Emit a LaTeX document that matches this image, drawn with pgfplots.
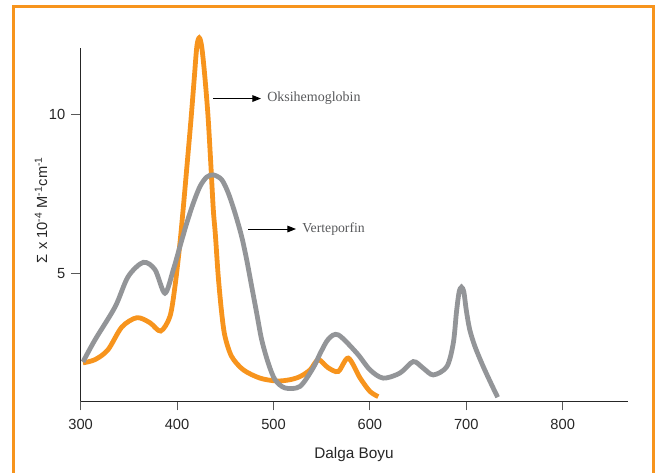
\documentclass[border=0pt]{standalone}
\usepackage{fontspec}
\setmainfont{Liberation Sans}
\newfontfamily\annfont{Liberation Serif}
\usepackage{pgfplots}
\pgfplotsset{compat=1.18}
\usetikzlibrary{arrows.meta}
\definecolor{oxy}{HTML}{F7941D}
\definecolor{vert}{HTML}{939598}
\definecolor{anntext}{HTML}{58595B}
\begin{document}
\begin{tikzpicture}
\path[use as bounding box] (0,0) rectangle (491.25pt,-354pt);
\draw[oxy, line width=2.25pt] (10pt,-356pt) -- (10pt,-4.75pt) -- (489.75pt,-4.75pt) -- (489.75pt,-356pt);
\begin{axis}[
  at={(60.5pt,-300.75pt)}, anchor=south west,
  scale only axis, width=410.7pt, height=264.75pt,
  xmin=300, xmax=868, ymin=1, ymax=12.1,
  axis lines=left, axis line style={-, line width=0.75pt, black!85},
  clip=false,
  xtick={300,400,500,600,700,800},
  ytick={5,10},
  tick align=outside, major tick length=7pt,
  tick style={line width=0.75pt, black!65},
  /pgf/number format/assume math mode=true,
  ticklabel style={font=\fontsize{11pt}{13pt}\selectfont, text=black!85},
  x tick label style={yshift=-3.5pt},
  y tick label style={xshift=-1pt},
]
\addplot[oxy, line width=3.6pt, smooth, tension=0.5] coordinates {
(302.4,2.20) (314.8,2.30) (328.3,2.61) (342.8,3.33) (358.4,3.62) (371.9,3.46)
(383.0,3.20) (392.6,3.66) (397.8,4.60) (403.0,5.97) (406.8,7.20) (410.8,8.58)
(414.4,9.84) (417.7,11.10) (420.5,12.15) (423.0,12.42) (425.5,12.15) (428.5,11.30)
(432.0,10.00) (434.9,8.50) (437.6,7.01) (439.8,6.20) (442.7,4.92) (446.3,3.76)
(449.7,3.03) (456.6,2.40) (468.7,1.98) (486.0,1.72) (503.3,1.63) (517.1,1.67)
(527.6,1.77) (538.0,1.98) (546.5,2.30) (556.5,2.05) (567.2,1.93)
(577.6,2.35) (589.7,1.73) (600.1,1.30) (608.7,1.14)
};
\addplot[vert, line width=3.6pt, smooth, tension=0.5] coordinates {
(302.4,2.23) (314.8,2.92) (335.7,3.96) (349.2,4.91) (364.9,5.36) (377.1,5.13)
(387.4,4.39) (396.1,5.13) (403.0,5.86) (410.0,6.59) (416.8,7.22) (423.8,7.75)
(430.7,8.04) (437.6,8.11) (446.3,7.96) (453.1,7.54) (460.1,6.91) (467.0,6.17)
(472.2,5.44) (477.4,4.60) (482.6,3.76) (487.8,2.92) (494.6,2.19) (501.6,1.67)
(512.0,1.41) (527.5,1.46) (541.3,2.05) (548.5,2.50)
(557.0,2.95) (567.2,3.08) (586.3,2.51) (600.1,1.98) (613.9,1.72) (631.2,1.88)
(645.0,2.24) (655.4,2.03) (665.8,1.82) (679.8,2.08) (686.5,2.82) (689.8,3.80)
(692.5,4.42) (695.0,4.58) (697.5,4.42) (700.0,3.85) (703.5,3.25) (709.0,2.71)
(717.6,2.08) (726.3,1.51) (732.5,1.12)
};
\end{axis}
\draw[line width=0.75pt, -{Triangle[length=6.5pt,width=5pt]}] (159.75pt,-73.9pt) -- (195.75pt,-73.9pt);
\node[anchor=west, inner sep=0pt, text=anntext, font=\annfont\fontsize{10.5pt}{12pt}\selectfont] at (200.25pt,-73.9pt) {Oksihemoglobin};
\draw[line width=0.75pt, -{Triangle[length=6.5pt,width=5pt]}] (186pt,-171.75pt) -- (222pt,-171.75pt);
\node[anchor=west, inner sep=0pt, text=anntext, font=\annfont\fontsize{10.3pt}{12pt}\selectfont] at (226.5pt,-171.75pt) {Verteporfin};
\node[rotate=90, inner sep=0pt, text=black!85, font=\fontsize{11pt}{13pt}\selectfont] at (30.75pt,-157.5pt) {Σ x 10\textsuperscript{-4} M\textsuperscript{-1}cm\textsuperscript{-1}};
\node[inner sep=0pt, text=black!85, font=\fontsize{11.5pt}{13pt}\selectfont] at (265.5pt,-341pt) {Dalga Boyu};
\end{tikzpicture}
\end{document}
